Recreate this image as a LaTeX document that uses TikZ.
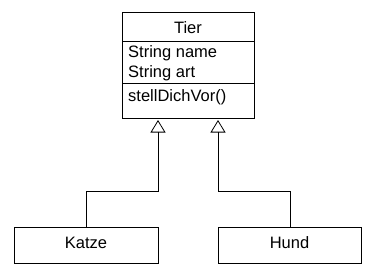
\documentclass[tikz,border=0pt]{standalone}
\usepackage{fontspec}
\setmainfont{Liberation Sans}
\usetikzlibrary{arrows.meta,calc}
\begin{document}
\begin{tikzpicture}[x=1pt,y=-1pt,
  box/.style={draw,line width=0.8pt,rectangle,inner sep=0pt,anchor=north west},
  lbl/.style={inner sep=0pt,font=\fontsize{16.5}{18}\selectfont},
  inh/.style={line width=0.8pt,-{Triangle[open,width=15pt,length=12.5pt,line width=0.8pt]}}]
\useasboundingbox (0,0) rectangle (379,273);
\node[box,minimum width=132pt,minimum height=29pt] (title) at (122,12) {};
\node[box,minimum width=132pt,minimum height=42pt] (attrs) at (122,41) {};
\node[box,minimum width=132pt,minimum height=35pt] (meths) at (122,83) {};
\node[lbl,anchor=base] (tiername) at (188,33) {Tier};
\node[lbl,anchor=base west] (a1) at (128,57.5) {String name};
\node[lbl,anchor=base west] (a2) at (128,77.5) {String art};
\node[lbl,anchor=base west] (m1) at (128,101.5) {stellDichVor()};
\node[box,minimum width=144pt,minimum height=35.5pt] (katze) at (14,227) {};
\node[lbl,anchor=base] (kt) at (86,248.5) {Katze};
\node[box,minimum width=143pt,minimum height=35.5pt] (hund) at (218,227) {};
\node[lbl,anchor=base] (ht) at (289.5,248.5) {Hund};
\coordinate (t1) at (158,120);
\coordinate (t2) at (218,120);
\draw[inh] (katze.north) |- ($(t1)+(0,71)$) -- (t1);
\draw[inh] (hund.north) |- ($(t2)+(0,71)$) -- (t2);
\end{tikzpicture}
\end{document}
